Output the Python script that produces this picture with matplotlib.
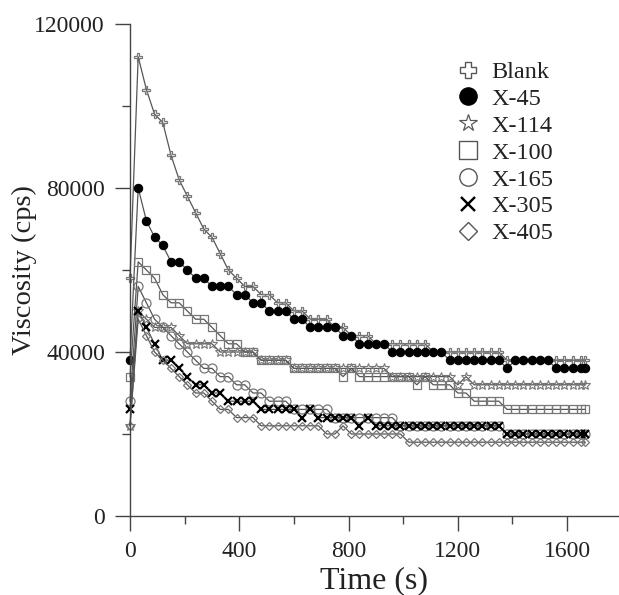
import matplotlib
matplotlib.use("Agg")
import matplotlib.pyplot as plt
from matplotlib.lines import Line2D
from matplotlib.ticker import MultipleLocator

plt.rcParams["font.family"] = ["Liberation Serif", "DejaVu Serif"]

# time of each reading (s)
times = [0, 30, 60, 90, 120, 150, 180, 210, 240, 270,
         300, 330, 360, 390, 420, 450, 480, 510, 540, 570,
         600, 630, 660, 690, 720, 750, 780, 810, 840, 870,
         900, 930, 960, 990, 1020, 1050, 1080, 1110, 1140, 1170,
         1200, 1230, 1260, 1290, 1320, 1350, 1380, 1410, 1440, 1470,
         1500, 1530, 1560, 1590, 1620, 1650, 1665]

blank = [58000, 112000, 104000, 98000, 96000, 88000, 82000, 78000, 74000, 70000,
         68000, 64000, 60000, 58000, 56000, 56000, 54000, 54000, 52000, 52000,
         50000, 50000, 48000, 48000, 48000, 46000, 46000, 44000, 44000, 44000,
         42000, 42000, 42000, 42000, 42000, 42000, 42000, 40000, 40000, 40000,
         40000, 40000, 40000, 40000, 40000, 40000, 38000, 38000, 38000, 38000,
         38000, 38000, 38000, 38000, 38000, 38000, 38000]

x45 = [38000, 80000, 72000, 68000, 66000, 62000, 62000, 60000, 58000, 58000,
       56000, 56000, 56000, 54000, 54000, 52000, 52000, 50000, 50000, 50000,
       48000, 48000, 46000, 46000, 46000, 46000, 44000, 44000, 42000, 42000,
       42000, 42000, 40000, 40000, 40000, 40000, 40000, 40000, 40000, 38000,
       38000, 38000, 38000, 38000, 38000, 38000, 36000, 38000, 38000, 38000,
       38000, 38000, 36000, 36000, 36000, 36000, 36000]

x114 = [22000, 50000, 48000, 46000, 46000, 46000, 44000, 42000, 42000, 42000,
        42000, 40000, 40000, 40000, 40000, 40000, 38000, 38000, 38000, 38000,
        36000, 36000, 36000, 36000, 36000, 36000, 36000, 36000, 36000, 36000,
        36000, 36000, 34000, 34000, 34000, 34000, 34000, 34000, 34000, 34000,
        32000, 34000, 32000, 32000, 32000, 32000, 32000, 32000, 32000, 32000,
        32000, 32000, 32000, 32000, 32000, 32000, 32000]

x100 = [34000, 62000, 60000, 58000, 54000, 52000, 52000, 50000, 48000, 48000,
        46000, 44000, 42000, 42000, 40000, 40000, 38000, 38000, 38000, 38000,
        36000, 36000, 36000, 36000, 36000, 36000, 34000, 36000, 34000, 34000,
        34000, 34000, 34000, 34000, 34000, 32000, 34000, 32000, 32000, 32000,
        30000, 30000, 28000, 28000, 28000, 28000, 26000, 26000, 26000, 26000,
        26000, 26000, 26000, 26000, 26000, 26000, 26000]

x165 = [28000, 56000, 52000, 48000, 46000, 44000, 42000, 40000, 38000, 36000,
        36000, 34000, 34000, 32000, 32000, 30000, 30000, 28000, 28000, 28000,
        26000, 26000, 26000, 26000, 26000, 24000, 24000, 24000, 24000, 24000,
        24000, 24000, 24000, 22000, 22000, 22000, 22000, 22000, 22000, 22000,
        22000, 22000, 22000, 22000, 22000, 22000, 20000, 20000, 20000, 20000,
        20000, 20000, 20000, 20000, 20000, 20000, 20000]

x305 = [26000, 50000, 46000, 42000, 38000, 38000, 36000, 34000, 32000, 32000,
        30000, 30000, 28000, 28000, 28000, 28000, 26000, 26000, 26000, 26000,
        26000, 24000, 26000, 24000, 24000, 24000, 24000, 24000, 22000, 24000,
        22000, 22000, 22000, 22000, 22000, 22000, 22000, 22000, 22000, 22000,
        22000, 22000, 22000, 22000, 22000, 22000, 20000, 20000, 20000, 20000,
        20000, 20000, 20000, 20000, 20000, 20000, 20000]

x405 = [22000, 48000, 44000, 40000, 38000, 36000, 34000, 32000, 30000, 30000,
        28000, 26000, 26000, 24000, 24000, 24000, 22000, 22000, 22000, 22000,
        22000, 22000, 22000, 22000, 20000, 20000, 22000, 20000, 20000, 20000,
        20000, 20000, 20000, 20000, 18000, 18000, 18000, 18000, 18000, 18000,
        18000, 18000, 18000, 18000, 18000, 18000, 18000, 18000, 18000, 18000,
        18000, 18000, 18000, 18000, 18000, 18000, 18000]

labels = ["Blank", "X-45", "X-114", "X-100", "X-165", "X-305", "X-405"]
series = [blank, x45, x114, x100, x165, x305, x405]

line_col = "#555555"
grey = "#777777"
# marker, size in plot, size in legend, face, edge, edge width
styles = [
    ("P", 6, 12, "none", grey, 0.9),
    ("o", 6, 12.5, "black", "black", 0.8),
    ("*", 7, 13, "none", grey, 0.8),
    ("s", 6, 12.5, "none", grey, 0.9),
    ("o", 6.5, 12.5, "none", grey, 0.9),
    ("x", 6, 10, "black", "black", 1.6),
    ("D", 4, 9, "none", grey, 0.9),
]

fig = plt.figure(figsize=(6.19, 5.95), dpi=100)
ax = fig.add_axes([130 / 619, 1 - 516 / 595, 489 / 619, 492 / 595])

for y, (m, ms, lms, fc, ec, mew) in zip(series, styles):
    ax.plot(times, y, color=line_col, lw=0.9, marker=m, ms=ms,
            mfc=fc, mec=ec, mew=mew, clip_on=False)

ax.set_xlim(0, 1790)
ax.set_ylim(0, 120000)
ax.xaxis.set_major_locator(MultipleLocator(400))
ax.xaxis.set_minor_locator(MultipleLocator(200))
ax.yaxis.set_major_locator(MultipleLocator(40000))
ax.yaxis.set_minor_locator(MultipleLocator(20000))

for s in ["top", "right"]:
    ax.spines[s].set_visible(False)
for s in ["left", "bottom"]:
    ax.spines[s].set_color("#444444")
    ax.spines[s].set_linewidth(1.0)

ax.tick_params(which="major", direction="out", length=11, width=1.0,
               color="#444444", labelsize=17, labelcolor="#222222", pad=7)
ax.tick_params(which="minor", direction="out", length=6, width=1.0,
               color="#444444")

ax.set_xlabel("Time (s)", fontsize=23, color="#222222", labelpad=3)
ax.set_ylabel("Viscosity (cps)", fontsize=20.5, color="#222222")
ax.yaxis.set_label_coords(-0.19, 0.5)

handles = []
for lab, (m, ms, lms, fc, ec, mew) in zip(labels, styles):
    handles.append(Line2D([], [], linestyle="none", marker=m, ms=lms,
                          mfc=fc, mec=ec if ec != grey else "#555555",
                          mew=mew * 1.1, label=lab))
fig.legend(handles=handles, loc="upper left",
           bbox_to_anchor=(456 / 619, 1 - 61 / 595), frameon=False,
           fontsize=17.5, handlelength=1.0, handletextpad=0.45,
           labelspacing=0.2, borderpad=0, borderaxespad=0,
           labelcolor="#222222")

fig.savefig("out.png", dpi=100)
